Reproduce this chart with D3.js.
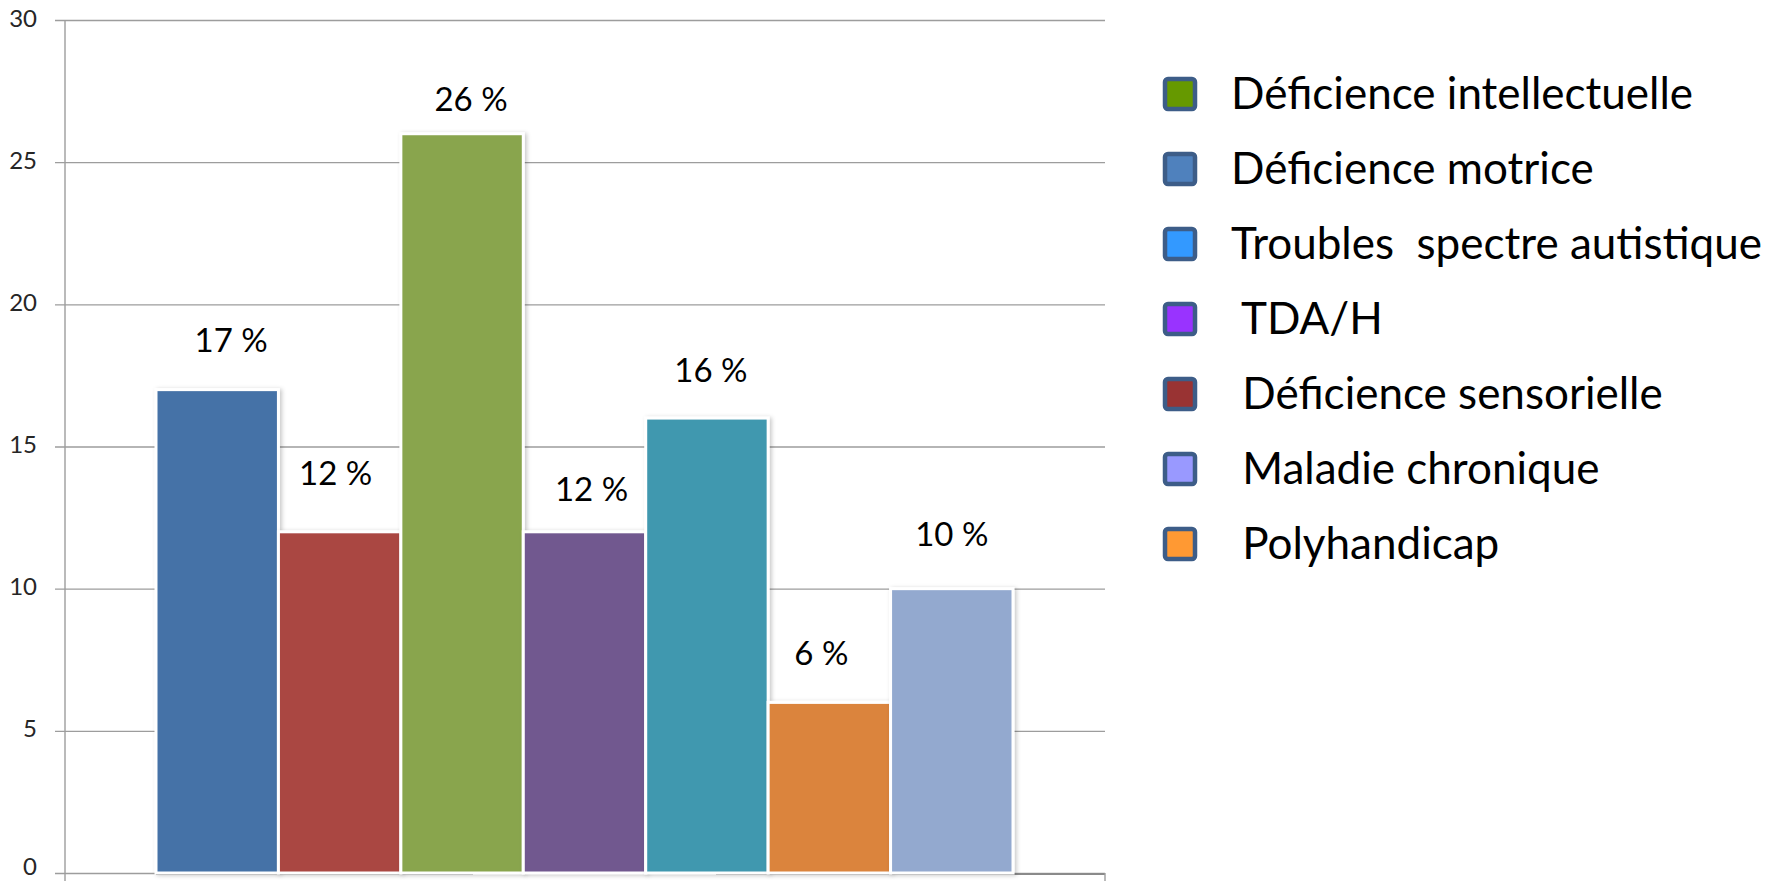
<!DOCTYPE html>
<html>
<head>
<meta charset="utf-8">
<script src="https://cdn.jsdelivr.net/npm/d3@7"></script>
<style>
  html, body { margin: 0; padding: 0; background: #fff; }
  svg { display: block; font-family: Lato, "Noto Sans", sans-serif; }
</style>
</head>
<body>
<div id="chart"></div>
<script>
// bars, left to right
const barKeys = ["Déficience motrice", "Déficience sensorielle", "Déficience intellectuelle", "TDA/H", "Troubles spectre autistique", "Polyhandicap", "Maladie chronique"]
const barValues = [17, 12, 26, 12, 16, 6, 10]
const barLabels = ["17 %", "12 %", "26 %", "12 %", "16 %", "6 %", "10 %"]
const barColors = ["#4572a7", "#aa4643", "#89a54e", "#71588f", "#4198af", "#db843d", "#93a9cf"]

// legend (as in the picture, colours do not follow the bars)
const legendLabels = ["Déficience intellectuelle", "Déficience motrice", "Troubles  spectre autistique", " TDA/H", " Déficience sensorielle", " Maladie chronique", " Polyhandicap"]
const legendColors = ["#669900", "#4f81bd", "#3399ff", "#9933ff", "#993333", "#9999ff", "#ff9933"]

const yTicks = [0, 5, 10, 15, 20, 25, 30]

// hand placed value labels: [dx, gap above bar]
const labelNudge = [[14, 38], [-4, 47], [9, 23], [7, 31], [4, 36], [-8, 37], [0, 43]]

const width = 1783
const height = 881
const plot = {left: 65, gridLeft: 55, right: 1105, top: 20, bottom: 873}

const svg = d3.select('#chart')
  .append('svg')
    .attr('width', width)
    .attr('height', height)

const defs = svg.append('defs')
defs.append('filter')
    .attr('id', 'shadow')
    .attr('x', '-10%').attr('y', '-10%').attr('width', '130%').attr('height', '130%')
  .append('feDropShadow')
    .attr('dx', 2).attr('dy', 1)
    .attr('stdDeviation', 2)
    .attr('flood-color', '#000')
    .attr('flood-opacity', 0.22)

const yScale = d3.scaleLinear()
    .domain([0, 30])
    .range([plot.bottom, plot.top])

const xScale = d3.scaleBand()
    .domain(barKeys)
    .range([156, 1013])
    .padding(0)

// grid lines
const grid = svg.append('g')
    .attr('transform', `translate(${plot.gridLeft}, 0)`)
    .call(d3.axisRight(yScale).tickValues(yTicks).tickSize(plot.right - plot.gridLeft).tickFormat(''))
grid.select('.domain').remove()
grid.selectAll('.tick line')
    .attr('stroke', '#9d9d9d')
    .attr('stroke-width', 1.4)

// y axis labels
const yAxis = svg.append('g')
    .attr('transform', `translate(${plot.left}, 0)`)
    .call(d3.axisLeft(yScale).tickValues(yTicks).tickSize(0).tickPadding(28))
yAxis.select('.domain').remove()
yAxis.selectAll('text')
    .attr('dy', d => d === 0 ? '0.08em' : '0.25em')   // keep the 0 inside the frame
    .style('font-family', 'Lato, sans-serif')
    .style('font-size', '24px')
    .attr('fill', '#262626')

svg.append('line')
    .attr('x1', plot.left).attr('x2', plot.left)
    .attr('y1', plot.top).attr('y2', height)
    .attr('stroke', '#9d9d9d')
    .attr('stroke-width', 1.4)

// bottom shadow line segments and end tick
const baseY = yScale(0) + 1
svg.append('line')
    .attr('x1', xScale(barKeys[0])).attr('x2', 473)
    .attr('y1', baseY).attr('y2', baseY)
    .attr('stroke', '#8a8a8a').attr('stroke-width', 2)
svg.append('line')
    .attr('x1', 716).attr('x2', plot.right)
    .attr('y1', baseY).attr('y2', baseY)
    .attr('stroke', '#8a8a8a').attr('stroke-width', 2)
svg.append('line')
    .attr('x1', plot.right).attr('x2', plot.right)
    .attr('y1', baseY - 1).attr('y2', height)
    .attr('stroke', '#9d9d9d').attr('stroke-width', 1.4)

// bars
svg.append('g')
    .selectAll('rect')
    .data(barValues)
    .enter().append('rect')
      .attr('x', (d, i) => xScale(barKeys[i]))
      .attr('y', d => yScale(d))
      .attr('width', xScale.bandwidth())
      .attr('height', d => yScale(0) - yScale(d))
      .attr('fill', (d, i) => barColors[i])
      .attr('stroke', '#fff')
      .attr('stroke-width', 3)
      .attr('filter', 'url(#shadow)')

// value labels
svg.append('g')
    .selectAll('text')
    .data(barValues)
    .enter().append('text')
      .attr('x', (d, i) => xScale(barKeys[i]) + xScale.bandwidth() / 2 + labelNudge[i][0])
      .attr('y', (d, i) => yScale(d) - labelNudge[i][1])
      .attr('text-anchor', 'middle')
      .style('font-size', '33px')
      .attr('fill', '#000')
      .text((d, i) => barLabels[i])

// legend
const legendRows = d3.scalePoint()
    .domain(d3.range(legendLabels.length))
    .range([94, 544])

const legend = svg.append('g')
const item = legend.selectAll('g')
    .data(legendLabels)
    .enter().append('g')
      .attr('transform', (d, i) => `translate(0, ${legendRows(i)})`)

item.append('rect')
    .attr('x', 1165)
    .attr('y', -15)
    .attr('width', 30)
    .attr('height', 30)
    .attr('rx', 3)
    .attr('fill', (d, i) => legendColors[i])
    .attr('stroke', '#3d5d88')
    .attr('stroke-width', 4.5)

item.append('text')
    .attr('x', 1231)
    .attr('y', 15)
    .attr('xml:space', 'preserve')
    .style('white-space', 'pre')
    .style('font-size', '44px')
    .attr('fill', '#000')
    .text(d => d)
</script>
</body>
</html>
